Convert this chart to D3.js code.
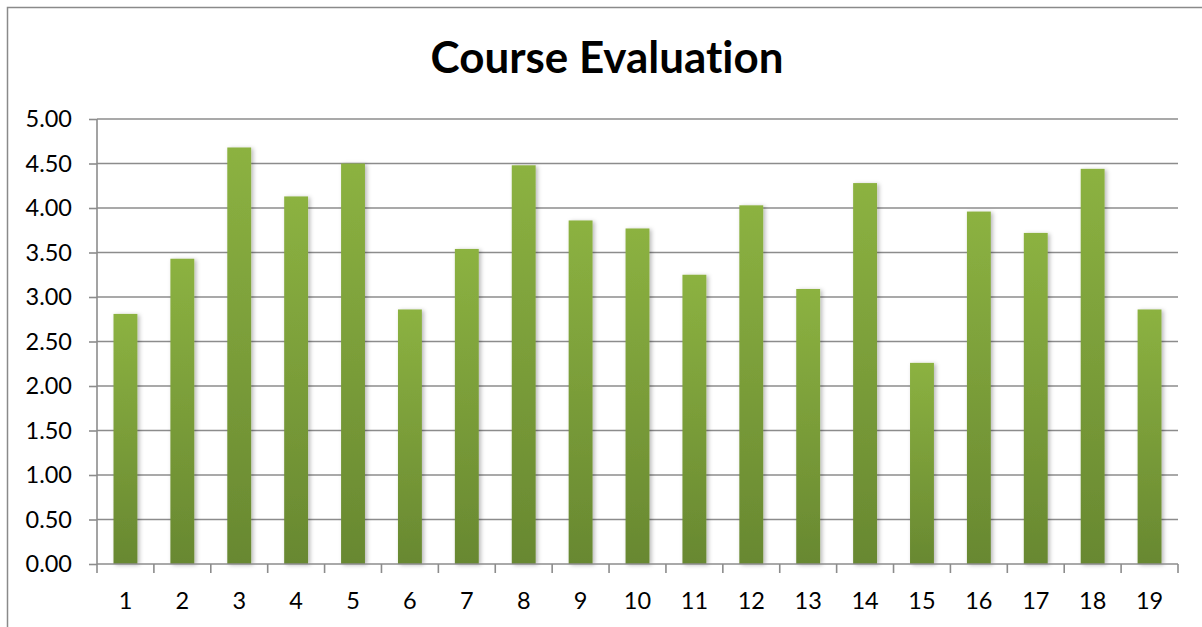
<!DOCTYPE html>
<html>
<head>
<meta charset="utf-8">
<script src="https://cdn.jsdelivr.net/npm/d3@7"></script>
<style>
  html, body { margin: 0; padding: 0; background: #fff; overflow: hidden; }
  svg { display: block; }
  text { font-family: Lato, "Open Sans", sans-serif; fill: #000; font-variant-ligatures: none; }
</style>
</head>
<body>
<svg id="chart" width="1202" height="627"></svg>
<script>
// chart data
var categories = ['1', '2', '3', '4', '5', '6', '7', '8', '9', '10',
  '11', '12', '13', '14', '15', '16', '17', '18', '19'];
var scores = [2.81, 3.43, 4.68, 4.13, 4.50, 2.86, 3.54, 4.48, 3.86, 3.77,
  3.25, 4.03, 3.09, 4.28, 2.26, 3.96, 3.72, 4.44, 2.86];
var yTicks = [0, 0.5, 1, 1.5, 2, 2.5, 3, 3.5, 4, 4.5, 5];
var title = 'Course Evaluation';

var svg = d3.select('#chart');
var margin = { left: 97, top: 119, right: 1178, bottom: 564 };

var defs = svg.append('defs');
var grad = defs.append('linearGradient')
  .attr('id', 'barGrad')
  .attr('x1', 0).attr('y1', 0).attr('x2', 0).attr('y2', 1);
grad.append('stop').attr('offset', '0%').attr('stop-color', '#8cb241');
grad.append('stop').attr('offset', '100%').attr('stop-color', '#688831');

var shadow = defs.append('filter').attr('id', 'barShadow')
  .attr('x', '-30%').attr('y', '-10%').attr('width', '160%').attr('height', '120%');
shadow.append('feDropShadow')
  .attr('dx', 2).attr('dy', 1).attr('stdDeviation', 2.2)
  .attr('flood-color', '#000').attr('flood-opacity', 0.28);

// outer chart border (runs past window on right and bottom)
svg.append('rect')
  .attr('x', 7.5).attr('y', 7.5)
  .attr('width', 1300).attr('height', 700)
  .attr('fill', '#fff')
  .attr('stroke', '#8a8a8a').attr('stroke-width', 1.5);

var x = d3.scaleBand()
  .domain(categories)
  .range([margin.left, margin.right])
  .paddingInner(0.58)
  .paddingOuter(0.29);

var y = d3.scaleLinear()
  .domain([0, 5])
  .range([margin.bottom, margin.top]);

// gridlines
svg.append('g')
  .selectAll('line')
  .data(yTicks.slice(1))
  .join('line')
  .attr('x1', margin.left).attr('x2', margin.right)
  .attr('y1', function (d) { return y(d); })
  .attr('y2', function (d) { return y(d); })
  .attr('stroke', '#8c8c8c').attr('stroke-width', 1.6);

// bars
svg.append('g')
  .selectAll('rect')
  .data(scores)
  .join('rect')
  .attr('x', function (d, i) { return x(categories[i]); })
  .attr('y', function (d) { return y(d); })
  .attr('width', x.bandwidth())
  .attr('height', function (d) { return y(0) - y(d); })
  .attr('fill', 'url(#barGrad)')
  .style('filter', 'url(#barShadow)');

// y axis
var yAxis = d3.axisLeft(y)
  .tickValues(yTicks)
  .tickFormat(d3.format('.2f'))
  .tickSize(8)
  .tickPadding(17);
var gy = svg.append('g')
  .attr('transform', 'translate(' + margin.left + ',0)')
  .call(yAxis);
gy.select('.domain').attr('stroke', '#8c8c8c').attr('stroke-width', 1.6)
  .attr('d', 'M0,' + margin.top + 'V' + margin.bottom);
gy.selectAll('.tick line').attr('stroke', '#8c8c8c').attr('stroke-width', 1.6);
gy.selectAll('.tick text')
  .style('font-size', '23.5px')
  .style('font-family', 'Lato, sans-serif')
  .attr('fill', '#000');

// x axis with ticks at category boundaries
var boundaries = d3.range(categories.length + 1).map(function (i) {
  return margin.left + i * (margin.right - margin.left) / categories.length;
});
var gx = svg.append('g');
gx.append('line')
  .attr('x1', margin.left).attr('x2', margin.right)
  .attr('y1', margin.bottom).attr('y2', margin.bottom)
  .attr('stroke', '#8c8c8c').attr('stroke-width', 1.6);
gx.selectAll('line.tk')
  .data(boundaries)
  .join('line')
  .attr('class', 'tk')
  .attr('x1', function (d) { return d; }).attr('x2', function (d) { return d; })
  .attr('y1', margin.bottom).attr('y2', margin.bottom + 9)
  .attr('stroke', '#8c8c8c').attr('stroke-width', 1.6);
gx.selectAll('text')
  .data(categories)
  .join('text')
  .attr('x', function (d) { return x(d) + x.bandwidth() / 2; })
  .attr('y', 609)
  .attr('text-anchor', 'middle')
  .style('font-size', '23.5px')
  .text(function (d) { return d; });

// title
var t = svg.append('text')
  .attr('x', 607)
  .attr('y', 73)
  .attr('text-anchor', 'middle')
  .style('font-size', '40px')
  .style('font-weight', 'bold')
  .text(title);
var w = t.node().getComputedTextLength();
t.style('font-size', (40 * 353 / w) + 'px');
</script>
</body>
</html>
